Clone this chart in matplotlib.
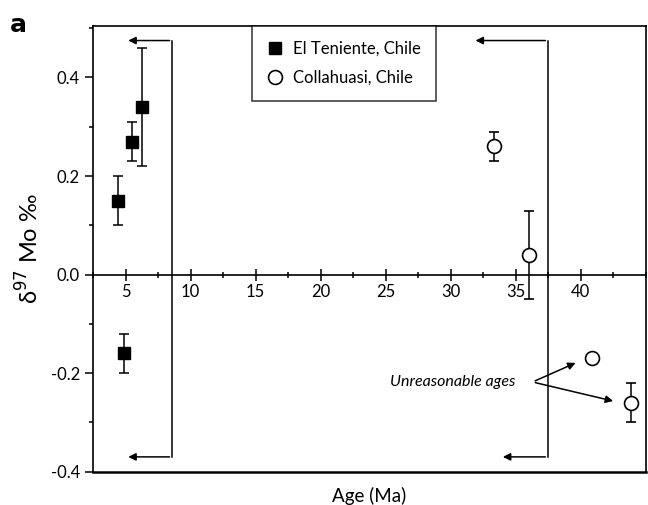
import matplotlib.pyplot as plt
from matplotlib.ticker import MultipleLocator
from matplotlib.lines import Line2D

plt.rcParams['font.family'] = ['Lato', 'DejaVu Sans']

# El Teniente (filled squares)
ten_age = [4.4, 5.5, 6.3, 4.9]
ten_mo = [0.15, 0.27, 0.34, -0.16]
ten_err = [0.05, 0.04, 0.12, 0.04]

# Collahuasi (open circles)
col_age = [33.3, 36.0, 40.9, 43.9]
col_mo = [0.26, 0.04, -0.17, -0.26]
col_err = [0.03, 0.09, 0.0, 0.04]

# bracket lines (age range markers)
brk_left_x = [5.0, 8.6, 8.6, 5.0]
brk_left_y = [0.475, 0.475, -0.37, -0.37]
brk_right_top = [31.7, 37.5]
brk_right_bot = [33.8, 37.5]
brk_y = [0.475, -0.37]

arrow = dict(arrowstyle='-|>', color='k', lw=1.1, mutation_scale=11)

fig = plt.figure(figsize=(6.48, 5.05), dpi=100)
ax = fig.add_axes([0.1435, 0.066, 0.853, 0.883])

ax.set_xlim(2.5, 45)
ax.set_ylim(-0.4, 0.505)

# brackets
ax.plot([brk_left_x[1], brk_left_x[2]], [brk_left_y[1], brk_left_y[2]], color='k', lw=1.1)
for yy in brk_y:
    ax.annotate('', xy=(brk_left_x[0], yy), xytext=(brk_left_x[1], yy), arrowprops=arrow)
ax.plot([brk_right_top[1], brk_right_bot[1]], brk_y, color='k', lw=1.1)
ax.annotate('', xy=(brk_right_top[0], brk_y[0]), xytext=(brk_right_top[1], brk_y[0]),
            arrowprops=arrow)
ax.annotate('', xy=(brk_right_bot[0], brk_y[1]), xytext=(brk_right_bot[1], brk_y[1]),
            arrowprops=arrow)

ax.errorbar(ten_age, ten_mo, yerr=ten_err, fmt='s', color='k', ms=8.5,
            capsize=3.6, elinewidth=1.1, capthick=1.1, zorder=3)
ax.errorbar(col_age[:2] + col_age[3:], col_mo[:2] + col_mo[3:],
            yerr=col_err[:2] + col_err[3:], fmt='o', mfc='white', mec='k', color='k',
            ms=10, mew=1.2, capsize=3.6, elinewidth=1.1, capthick=1.1, zorder=3)
ax.plot([col_age[2]], [col_mo[2]], 'o', mfc='white', mec='k', ms=10, mew=1.2, zorder=3)

# unreasonable ages annotation
ax.text(35.0, -0.218, 'Unreasonable ages', style='italic', fontsize=11.5,
        ha='right', va='center')
ax.annotate('', xy=(39.8, -0.177), xytext=(36.3, -0.218), arrowprops=arrow)
ax.annotate('', xy=(42.7, -0.258), xytext=(36.3, -0.218), arrowprops=arrow)

# axes: x axis drawn through zero, full frame kept
for s in ax.spines.values():
    s.set_linewidth(1.2)
ax.spines['bottom'].set_position(('data', 0))
ax.plot([0, 1], [0, 0], transform=ax.transAxes, color='k', lw=1.8, clip_on=False)

ax.set_xticks([5, 10, 15, 20, 25, 30, 35, 40])
ax.xaxis.set_minor_locator(MultipleLocator(2.5))
ax.tick_params(axis='x', which='major', direction='inout', length=8, width=1.1,
               labelsize=12, pad=3)
ax.tick_params(axis='x', which='minor', direction='inout', length=4, width=1.1)

ax.set_yticks([-0.4, -0.2, 0.0, 0.2, 0.4])
ax.set_yticklabels(['-0.4', '-0.2', '0.0', '0.2', '0.4'])
ax.yaxis.set_minor_locator(MultipleLocator(0.1))
ax.tick_params(axis='y', which='major', direction='out', length=6, width=1.1, labelsize=12)
ax.tick_params(axis='y', which='minor', direction='out', length=3, width=1.1)

ax.set_xlabel('Age (Ma)', fontsize=13.5)
ax.xaxis.set_label_coords(0.5, -0.035)
ax.set_ylabel('δ$^{97}$ Mo ‰', fontsize=17, labelpad=6)

handles = [Line2D([], [], marker='s', ls='none', color='k', ms=8.5),
           Line2D([], [], marker='o', ls='none', mfc='white', mec='k', ms=10, mew=1.2)]
leg = ax.legend(handles, ['El Teniente, Chile', 'Collahuasi, Chile'],
                loc='upper center', bbox_to_anchor=(0.454, 1.0), borderaxespad=0,
                fontsize=12, frameon=True, fancybox=False, edgecolor='k',
                borderpad=0.9, handletextpad=0.6, labelspacing=0.8, handlelength=1.0)
leg.get_frame().set_linewidth(1.1)

fig.text(0.015, 0.975, 'a', fontsize=18, fontweight='bold', va='top',
         family='DejaVu Sans')

fig.savefig('out.png', dpi=100)
